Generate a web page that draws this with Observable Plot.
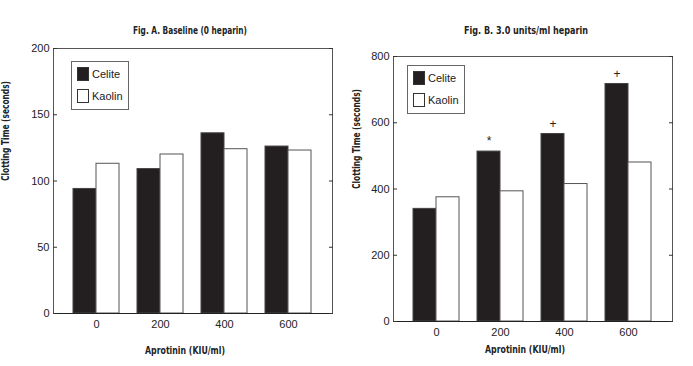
<!DOCTYPE html>
<html>
<head>
<meta charset="utf-8">
<script src="https://cdn.jsdelivr.net/npm/d3@7"></script>
<script src="https://cdn.jsdelivr.net/npm/@observablehq/plot@0.6"></script>
<style>
  body { margin: 0; background: #fff; }
  #wrap { position: relative; width: 693px; height: 366px; background: #fff; overflow: hidden; }
  .panel { position: absolute; top: 0; }
  .legend { position: absolute; border: 1px solid #666; background: #fff; box-sizing: border-box;
            font-family: "Liberation Sans", Arial, sans-serif; font-size: 11px; color: #222; }
  .legend .item { position: absolute; left: 5px; display: flex; align-items: center; }
  .legend .sw { width: 12px; height: 14px; box-sizing: border-box; border: 1px solid #333; margin-right: 3px; }
</style>
</head>
<body>
<div id="wrap">
  <div id="a" class="panel" style="left:0px"></div>
  <div id="b" class="panel" style="left:340px"></div>
</div>
<script>
// ---- data ----
const doses = ["0", "200", "400", "600"];
const seriesNames = ["Celite", "Kaolin"];
const celiteA = [94, 109, 136, 126];
const kaolinA = [113, 120, 124, 123];
const celiteB = [340, 513, 566, 717];
const kaolinB = [375, 393, 415, 480];
const signifB = ["", "*", "+", "+"];
const ticksA = [0, 50, 100, 150, 200];
const ticksB = [0, 200, 400, 600, 800];
const titleA = "Fig. A. Baseline (0 heparin)";
const titleB = "Fig. B. 3.0 units/ml heparin";
const yLabel = "Clotting Time (seconds)";
const xLabel = "Aprotinin (KIU/ml)";

const celiteFill = "#231f20";
const boldFont = "'Liberation Sans Narrow', 'DejaVu Sans Condensed', 'Roboto', sans-serif";

function rows(vals, extra) {
  return doses.map((d, i) => ({dose: d, value: vals[i], mark: extra ? extra[i] : ""}));
}

function panel(opts) {
  const {width, mr, mt, mb, celite, kaolin, ticks, ymax, title, titleDx, titleDy, ylDx, xlDy, annot} = opts;
  const marks = [
    Plot.barY(rows(celite), {x: "dose", y: "value", fill: celiteFill, stroke: "#444", strokeWidth: 1, insetRight: 23}),
    Plot.barY(rows(kaolin), {x: "dose", y: "value", fill: "white", stroke: "#555", strokeWidth: 1, insetLeft: 23}),
    Plot.frame({stroke: "#555"}),
    Plot.ruleY([0], {stroke: "#222"}),
    Plot.axisY(ticks, {anchor: "left", tickSize: 0, tickPadding: 4, fontSize: 11, label: null, fill: "#222"}),
    Plot.axisY(ticks, {anchor: "left", tickSize: -4, fill: "none", label: null, stroke: "#333"}),
    Plot.axisY(ticks, {anchor: "right", tickSize: -4, fill: "none", label: null, stroke: "#333"}),
    Plot.axisX(doses, {anchor: "bottom", tickSize: 0, tickPadding: 7, fontSize: 11, label: null, fill: "#222"}),
    Plot.text([title], {frameAnchor: "top", dy: titleDy, dx: titleDx, fontWeight: "bold", fontSize: 10, fontFamily: boldFont, fill: "#222"}),
    Plot.text([yLabel], {frameAnchor: "left", rotate: -90, dx: ylDx, fontWeight: "bold", fontSize: 10, fontFamily: boldFont, fill: "#222"}),
    Plot.text([xLabel], {frameAnchor: "bottom", dy: xlDy, dx: -8, fontWeight: "bold", fontSize: 10, fontFamily: boldFont, fill: "#222"})
  ];
  if (annot) {
    marks.push(Plot.text(rows(celite, annot), {x: "dose", y: "value", text: "mark", dx: -11.5, dy: -10, fontSize: 12, fill: "#222"}));
  }
  const svg = Plot.plot({
    width, height: 366,
    marginLeft: 53, marginRight: mr, marginTop: mt, marginBottom: mb,
    x: {type: "band", domain: doses, paddingInner: 0.28, paddingOuter: 0.3, axis: null},
    y: {domain: [0, ymax], axis: null},
    style: {fontFamily: "'Liberation Sans', Arial, sans-serif", fontSize: "11px", background: "white", color: "#222"},
    marks
  });
  // condense the bold labels to mimic a condensed typeface
  const lengths = new Map([[titleA, 114], [titleB, 124], [yLabel, 100], [xLabel, 80]]);
  d3.select(svg).selectAll("text").each(function () {
    const L = lengths.get(this.textContent);
    if (L) d3.select(this).attr("textLength", L).attr("lengthAdjust", "spacingAndGlyphs");
  });
  return svg;
}

document.getElementById("a").append(panel({
  width: 340, mr: 8, mt: 48, mb: 53, celite: celiteA, kaolin: kaolinA, ticks: ticksA, ymax: 200,
  title: titleA, titleDx: -3, titleDy: -22, ylDx: -48, xlDy: 40
}));
document.getElementById("b").append(panel({
  width: 353, mr: 21, mt: 56, mb: 45, celite: celiteB, kaolin: kaolinB, ticks: ticksB, ymax: 800,
  title: titleB, titleDx: -7, titleDy: -30, ylDx: -37, xlDy: 31, annot: signifB
}));

// legends
function legend(left, top) {
  const box = document.createElement("div");
  box.className = "legend";
  Object.assign(box.style, {left: left + "px", top: top + "px", width: "58px", height: "49px"});
  seriesNames.forEach((name, i) => {
    const item = document.createElement("div");
    item.className = "item";
    item.style.top = (5 + i * 22) + "px";
    const sw = document.createElement("div");
    sw.className = "sw";
    sw.style.background = i === 0 ? celiteFill : "white";
    const t = document.createElement("span");
    t.textContent = name;
    item.append(sw, t);
    box.append(item);
  });
  document.getElementById("wrap").append(box);
}
legend(71, 61);
legend(407, 65);
</script>
</body>
</html>
